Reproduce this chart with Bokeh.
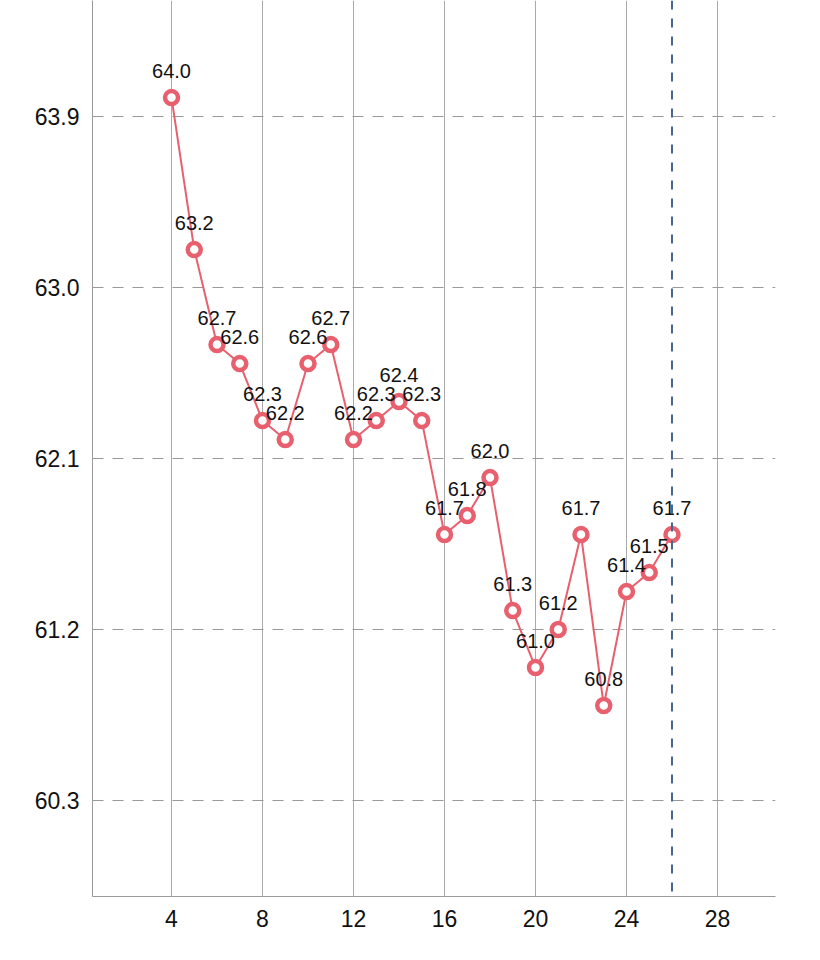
from bokeh.plotting import figure
from bokeh.models import ColumnDataSource, FixedTicker, Span, LabelSet, NumeralTickFormatter
from bokeh.core.properties import value
from bokeh.embed import file_html
from bokeh.resources import INLINE

days = [4, 5, 6, 7, 8, 9, 10, 11, 12, 13, 14, 15, 16, 17, 18, 19, 20, 21, 22, 23, 24, 25, 26]
weights = [64.0, 63.2, 62.7, 62.6, 62.3, 62.2, 62.6, 62.7, 62.2, 62.3, 62.4, 62.3,
           61.7, 61.8, 62.0, 61.3, 61.0, 61.2, 61.7, 60.8, 61.4, 61.5, 61.7]
x_ticks = [4, 8, 12, 16, 20, 24, 28]
y_ticks = [60.3, 61.2, 62.1, 63.0, 63.9]
today = 26

src = ColumnDataSource(dict(x=days, y=weights, lab=[f"{w:.1f}" for w in weights]))

p = figure(width=804, height=952, x_range=(0.527, 30.55), y_range=(59.795, 64.511),
           output_backend="svg", toolbar_location=None,
           min_border_left=92, min_border_right=29, min_border_top=0, min_border_bottom=56)
p.outline_line_color = None
p.background_fill_color = "white"
p.border_fill_color = "white"

p.xaxis.ticker = FixedTicker(ticks=x_ticks)
p.yaxis.ticker = FixedTicker(ticks=y_ticks)
p.yaxis.formatter = NumeralTickFormatter(format="0.0")
for ax in (p.xaxis, p.yaxis):
    ax.axis_line_color = "#999999"
    ax.axis_line_width = 1
    ax.major_tick_line_color = None
    ax.minor_tick_line_color = None
    ax.major_tick_out = 0
    ax.major_tick_in = 0
    ax.minor_tick_out = 0
    ax.major_label_text_font = "Liberation Sans"
    ax.major_label_text_font_size = "23px"
    ax.major_label_text_color = "#111111"
p.xaxis.major_label_standoff = 13
p.yaxis.major_label_standoff = 13

p.xgrid.grid_line_color = "#aaaaaa"
p.xgrid.grid_line_width = 1
p.ygrid.grid_line_color = "#999999"
p.ygrid.grid_line_dash = "11 9"
p.ygrid.grid_line_width = 1

p.add_layout(Span(location=today, dimension="height", line_color="#46668f",
                  line_dash="9 9", line_width=2))

p.line("x", "y", source=src, line_color="#e8606e", line_width=2)
p.scatter("x", "y", source=src, size=13, fill_color="white",
          line_color="#e8606e", line_width=4.5)

labels = LabelSet(x="x", y="y", text="lab", source=src, text_align="center",
                  text_baseline="middle", y_offset=27, text_font=value("Liberation Sans"),
                  text_font_size="20px", text_color="#111111")
p.add_layout(labels)

open("out.html", "w").write(file_html(p, INLINE))
